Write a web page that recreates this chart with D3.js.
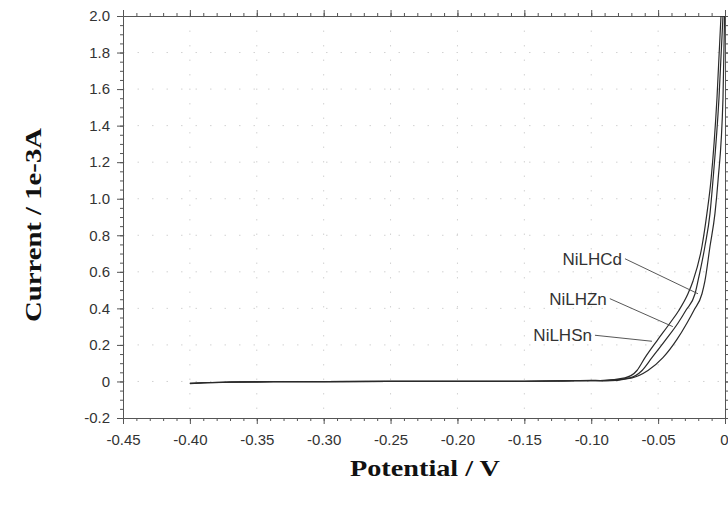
<!DOCTYPE html>
<html><head><meta charset="utf-8">
<script src="https://cdn.jsdelivr.net/npm/d3@7"></script>
<style>body{margin:0;background:#fff}svg{display:block}</style>
</head><body>
<svg id="c" width="728" height="505"></svg>
<script>
// ---- data ----
const seriesNames = ["NiLHCd", "NiLHZn", "NiLHSn"];
const cdPotential = [-0.400,-0.390,-0.370,-0.350,-0.300,-0.250,-0.200,-0.150,-0.120,-0.100,-0.0875,-0.0695,-0.0576,-0.0464,-0.0359,-0.0284,-0.0232,-0.0172,-0.0150,-0.0112,-0.0075,-0.0052,-0.0015,-0.0003];
const cdCurrent   = [-0.012,-0.008,-0.004,-0.002,-0.001,0.000,0.000,0.001,0.003,0.005,0.005,0.020,0.060,0.130,0.230,0.320,0.390,0.480,0.550,0.740,0.920,1.100,1.550,2.000];
const znPotential = [-0.400,-0.390,-0.370,-0.350,-0.300,-0.250,-0.200,-0.150,-0.120,-0.100,-0.0897,-0.0710,-0.0620,-0.0546,-0.0441,-0.0351,-0.0292,-0.0224,-0.0202,-0.0150,-0.0112,-0.0090,-0.0045,-0.0015];
const znCurrent   = [-0.010,-0.007,-0.003,-0.002,-0.001,0.000,0.000,0.001,0.003,0.005,0.005,0.020,0.060,0.130,0.230,0.320,0.390,0.480,0.550,0.740,0.920,1.100,1.550,2.000];
const snPotential = [-0.400,-0.390,-0.370,-0.350,-0.300,-0.250,-0.200,-0.150,-0.120,-0.100,-0.0934,-0.0748,-0.0658,-0.0598,-0.0501,-0.0411,-0.0344,-0.0277,-0.0239,-0.0172,-0.0135,-0.0105,-0.0060,-0.0030];
const snCurrent   = [-0.011,-0.007,-0.004,-0.002,-0.001,0.000,0.000,0.001,0.003,0.006,0.005,0.020,0.060,0.130,0.230,0.320,0.390,0.480,0.550,0.740,0.920,1.100,1.550,2.000];
const labelAnchorPotential = [-0.0202, -0.0390, -0.0546];
const labelAnchorCurrent   = [0.48, 0.30, 0.22];
const xTickValues = [-0.45,-0.40,-0.35,-0.30,-0.25,-0.20,-0.15,-0.10,-0.05,0];
const xTickLabels = ["-0.45","-0.40","-0.35","-0.30","-0.25","-0.20","-0.15","-0.10","-0.05","0"];
const yTickValues = [-0.2,0,0.2,0.4,0.6,0.8,1.0,1.2,1.4,1.6,1.8,2.0];
const yTickLabels = ["-0.2","0","0.2","0.4","0.6","0.8","1.0","1.2","1.4","1.6","1.8","2.0"];
const xTitle = "Potential / V";
const yTitle = "Current / 1e-3A";

// ---- layout ----
const L = 123, R = 725, T = 16, B = 418;
const svg = d3.select("#c");
const x = d3.scaleLinear().domain([-0.45, 0]).range([L, R]);
const y = d3.scaleLinear().domain([-0.2, 2.0]).range([B, T]);
const axisColor = "#555";

// grid
const grid = svg.append("g");
grid.selectAll("line.gy").data(yTickValues.slice(1, -1)).join("line")
  .attr("x1", L).attr("x2", R).attr("y1", d => y(d)).attr("y2", d => y(d))
  .attr("stroke", "#d2d2d2").attr("stroke-width", 1).attr("stroke-dasharray", "1.5,13");
grid.selectAll("line.gx").data(xTickValues.slice(1, -1)).join("line")
  .attr("y1", T).attr("y2", B).attr("x1", d => x(d)).attr("x2", d => x(d))
  .attr("stroke", "#d2d2d2").attr("stroke-width", 1).attr("stroke-dasharray", "1.5,13");

// minor ticks values
const xMinor = d3.range(-45, 1, 1).map(v => v / 100);
const yMinor = d3.range(-4, 41, 1).map(v => v / 20);

function styleAxis(g) {
  g.selectAll("path").attr("stroke", axisColor);
  g.selectAll("line").attr("stroke", axisColor);
  g.selectAll("text").attr("fill", "#333").attr("font-family", "Liberation Sans, Arial, sans-serif").attr("font-size", "15px");
}

// bottom
svg.append("g").attr("transform", `translate(0,${B})`)
  .call(d3.axisBottom(x).tickValues(xMinor).tickSize(3).tickFormat("").tickSizeOuter(0)).call(styleAxis);
const xAxisG = svg.append("g").attr("transform", `translate(0,${B})`)
  .call(d3.axisBottom(x).tickValues(xTickValues).tickSize(6).tickSizeOuter(0).tickPadding(10)
    .tickFormat((d, i) => xTickLabels[i])).call(styleAxis);
// keep the last label ("0") inside the page edge
xAxisG.selectAll(".tick text").filter(d => d === 0).attr("text-anchor", "end").attr("dx", "3px");
// top
svg.append("g").attr("transform", `translate(0,${T})`)
  .call(d3.axisTop(x).tickValues(xMinor).tickSize(3).tickFormat("").tickSizeOuter(0)).call(styleAxis);
svg.append("g").attr("transform", `translate(0,${T})`)
  .call(d3.axisTop(x).tickValues(xTickValues).tickSize(6).tickFormat("").tickSizeOuter(0)).call(styleAxis);
// left
svg.append("g").attr("transform", `translate(${L},0)`)
  .call(d3.axisLeft(y).tickValues(yMinor).tickSize(3).tickFormat("").tickSizeOuter(0)).call(styleAxis);
svg.append("g").attr("transform", `translate(${L},0)`)
  .call(d3.axisLeft(y).tickValues(yTickValues).tickSize(6).tickSizeOuter(0).tickPadding(7)
    .tickFormat((d, i) => yTickLabels[i])).call(styleAxis);
// right
svg.append("g").attr("transform", `translate(${R},0)`)
  .call(d3.axisRight(y).tickValues(yMinor).tickSize(3).tickFormat("").tickSizeOuter(0)).call(styleAxis);
svg.append("g").attr("transform", `translate(${R},0)`)
  .call(d3.axisRight(y).tickValues(yTickValues).tickSize(6).tickFormat("").tickSizeOuter(0)).call(styleAxis);

// curves
const series = [
  {name: seriesNames[0], v: cdPotential, i: cdCurrent},
  {name: seriesNames[1], v: znPotential, i: znCurrent},
  {name: seriesNames[2], v: snPotential, i: snCurrent}
];
const line = d3.line().x(d => x(d[0])).y(d => y(d[1])).curve(d3.curveMonotoneX);
svg.append("g").selectAll("path").data(series).join("path")
  .attr("d", s => line(s.v.map((v, k) => [v, s.i[k]])))
  .attr("fill", "none").attr("stroke", "#2a2a2a").attr("stroke-width", 1.2);

// labels with leader lines
const labelOffsets = [[-76, -35], [-66, -28], [-60, -6]];
series.forEach((s, k) => {
  const ax = x(labelAnchorPotential[k]), ay = y(labelAnchorCurrent[k]);
  const tx = ax + labelOffsets[k][0], ty = ay + labelOffsets[k][1];
  svg.append("line").attr("x1", tx + 3).attr("y1", ty).attr("x2", ax).attr("y2", ay)
    .attr("stroke", "#444").attr("stroke-width", 0.9);
  svg.append("text").attr("x", tx).attr("y", ty + 6).attr("text-anchor", "end")
    .attr("font-family", "Liberation Sans, Arial, sans-serif").attr("font-size", "17px").attr("fill", "#333")
    .text(s.name);
});

// titles
svg.append("text").attr("x", 425).attr("y", 476).attr("text-anchor", "middle")
  .attr("textLength", 150).attr("lengthAdjust", "spacingAndGlyphs")
  .attr("font-family", "Liberation Serif, Times New Roman, serif").attr("font-weight", "bold").attr("font-size", "24px")
  .attr("fill", "#111").text(xTitle);
svg.append("text").attr("transform", "translate(41,225) rotate(-90)").attr("text-anchor", "middle")
  .attr("textLength", 194).attr("lengthAdjust", "spacingAndGlyphs")
  .attr("font-family", "Liberation Serif, Times New Roman, serif").attr("font-weight", "bold").attr("font-size", "24px")
  .attr("fill", "#111").text(yTitle);
</script>
</body></html>
